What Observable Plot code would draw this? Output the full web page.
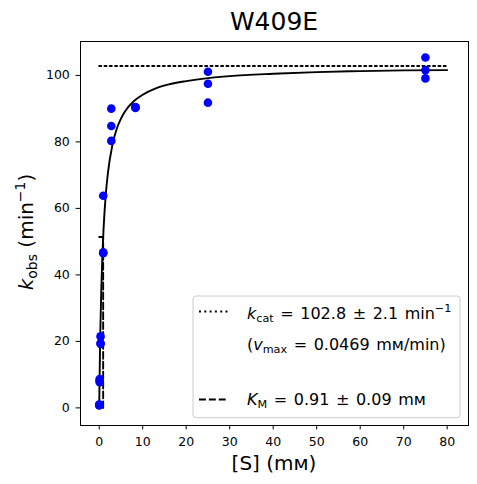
<!DOCTYPE html>
<html>
<head>
<meta charset="utf-8">
<script src="https://cdn.jsdelivr.net/npm/d3@7"></script>
<script src="https://cdn.jsdelivr.net/npm/@observablehq/plot@0.6"></script>
<style>
  html, body { margin: 0; padding: 0; background: white; }
  #chart svg { display: block; }
</style>
</head>
<body>
<div id="chart"></div>
<script>
// Measured substrate concentrations (mM) and observed rates (min^-1)
const substrate = [0.0114, 0.0114, 0.0114, 0.103, 0.103, 0.103, 0.309, 0.309, 0.309,
                   0.926, 0.926, 0.926, 2.78, 2.78, 2.78, 8.33, 8.33, 8.33,
                   25, 25, 25, 75, 75, 75];
const kObs = [0.9, 0.7, 1.0, 8.7, 7.7, 8.2, 21.5, 19.2, 19.5,
              63.8, 46.8, 46.5, 90.0, 84.8, 80.3, 90.2, 90.5, 90.4,
              101.1, 97.5, 91.8, 105.4, 101.6, 99.1];

// Fitted curve
const curveS = [0, 0.1, 0.2, 0.3, 0.5, 0.75, 1, 1.5, 2, 3, 4, 5, 6, 8, 10, 13, 16, 20, 25, 30, 40, 50, 60, 70, 80];
const curveK = [0, 10.2, 18.5, 25.5, 36.5, 46.5, 53.8, 64.0, 70.6, 78.9, 83.8, 87.0, 89.3, 92.3, 94.2, 96.1, 97.3, 98.3, 99.2, 99.8, 100.5, 101.0, 101.3, 101.5, 101.6];

// kcat reference line
const kcatS = [0, 80];
const kcatK = [102.8, 102.8];

// KM guide line
const kmS = [0, 0.91, 0.91];
const kmK = [51.4, 51.4, 0];

const xTicks = [0, 10, 20, 30, 40, 50, 60, 70, 80];
const yTicks = [0, 20, 40, 60, 80, 100];

const points = substrate.map((s, i) => ({s, k: kObs[i]}));
const curve = curveS.map((s, i) => ({s, k: curveK[i]}));
const kcatLine = kcatS.map((s, i) => ({s, k: kcatK[i]}));
const kmLine = kmS.map((s, i) => ({s, k: kmK[i]}));

const W = 477, H = 484;
const font = "DejaVu Sans";

const plot = Plot.plot({
  width: W,
  height: H,
  marginLeft: 80,
  marginRight: 9,
  marginTop: 41,
  marginBottom: 59,
  style: {fontFamily: font, fontSize: "12.5px", color: "black", background: "white", overflow: "visible"},
  x: {domain: [-4.3, 84.9]},
  y: {domain: [-5.3, 110.2]},
  marks: [
    Plot.axisX({ticks: xTicks, tickSize: 4.4, tickPadding: 7.4, fontSize: 12.5, label: null, stroke: "black", strokeWidth: 1}),
    Plot.axisY({ticks: yTicks, tickSize: 4.4, tickPadding: 6.3, fontSize: 12.5, label: null, stroke: "black", strokeWidth: 1}),
    Plot.line(kcatLine, {x: "s", y: "k", stroke: "black", strokeWidth: 2, strokeDasharray: "2,3.3"}),
    Plot.line(kmLine, {x: "s", y: "k", stroke: "black", strokeWidth: 1.9, strokeDasharray: "6.9,3"}),
    Plot.line(curve, {x: "s", y: "k", stroke: "black", strokeWidth: 1.9, curve: "monotone-x"}),
    Plot.dot(points, {x: "s", y: "k", r: 4.3, fill: "#0000ff", stroke: null}),
    Plot.frame({stroke: "black", strokeWidth: 1})
  ]
});

document.getElementById("chart").appendChild(plot);

const svg = d3.select(plot);

// Title
svg.append("text")
  .attr("x", 274).attr("y", 30.3)
  .attr("text-anchor", "middle")
  .attr("font-family", font).attr("font-size", 25)
  .attr("fill", "black")
  .text("W409E");

// X label
svg.append("text")
  .attr("x", 274).attr("y", 470)
  .attr("text-anchor", "middle")
  .attr("font-family", font).attr("font-size", 20)
  .attr("fill", "black")
  .text("[S] (m\u1D0D)");

// Y label
const yl = svg.append("text")
  .attr("transform", "translate(33,232) rotate(-90)")
  .attr("text-anchor", "middle")
  .attr("font-family", font).attr("font-size", 20)
  .attr("fill", "black");
yl.append("tspan").attr("font-style", "italic").text("k");
yl.append("tspan").attr("font-size", 14).attr("dy", 4).text("obs");
yl.append("tspan").attr("dy", -4).text(" (min");
yl.append("tspan").attr("font-size", 14).attr("dy", -8).text("\u22121");
yl.append("tspan").attr("dy", 8).text(")");

// Legend
const lg = svg.append("g").attr("font-family", font).attr("font-size", 16)
  .attr("fill", "black").attr("text-anchor", "start").attr("word-spacing", 1.5);
lg.append("rect")
  .attr("x", 193).attr("y", 296).attr("width", 267).attr("height", 121.7)
  .attr("rx", 3).attr("fill", "white").attr("fill-opacity", 0.8)
  .attr("stroke", "#cccccc").attr("stroke-width", 1);
lg.append("line").attr("x1", 199).attr("x2", 228).attr("y1", 311.5).attr("y2", 311.5)
  .attr("stroke", "black").attr("stroke-width", 2).attr("stroke-dasharray", "2,3.3");
lg.append("line").attr("x1", 199).attr("x2", 228).attr("y1", 399.5).attr("y2", 399.5)
  .attr("stroke", "black").attr("stroke-width", 1.9).attr("stroke-dasharray", "6.9,3");

const t1 = lg.append("text").attr("x", 247).attr("y", 318.5).attr("text-anchor", "start");
t1.append("tspan").attr("font-style", "italic").text("k");
t1.append("tspan").attr("font-size", 11.2).attr("dy", 3).text("cat");
t1.append("tspan").attr("dy", -3).text(" = 102.8 \u00B1 2.1 min");
t1.append("tspan").attr("font-size", 11.2).attr("dy", -7).text("\u22121");

const t2 = lg.append("text").attr("x", 247).attr("y", 350).attr("text-anchor", "start");
t2.append("tspan").text("(");
t2.append("tspan").attr("font-style", "italic").text("v");
t2.append("tspan").attr("font-size", 11.2).attr("dy", 3).text("max");
t2.append("tspan").attr("dy", -3).text(" = 0.0469 m\u1D0D/min)");

const t3 = lg.append("text").attr("x", 247).attr("y", 405).attr("text-anchor", "start");
t3.append("tspan").attr("font-style", "italic").text("K");
t3.append("tspan").attr("font-size", 11.2).attr("dy", 3).text("M");
t3.append("tspan").attr("dy", -3).text(" = 0.91 \u00B1 0.09 m\u1D0D");
</script>
</body>
</html>
